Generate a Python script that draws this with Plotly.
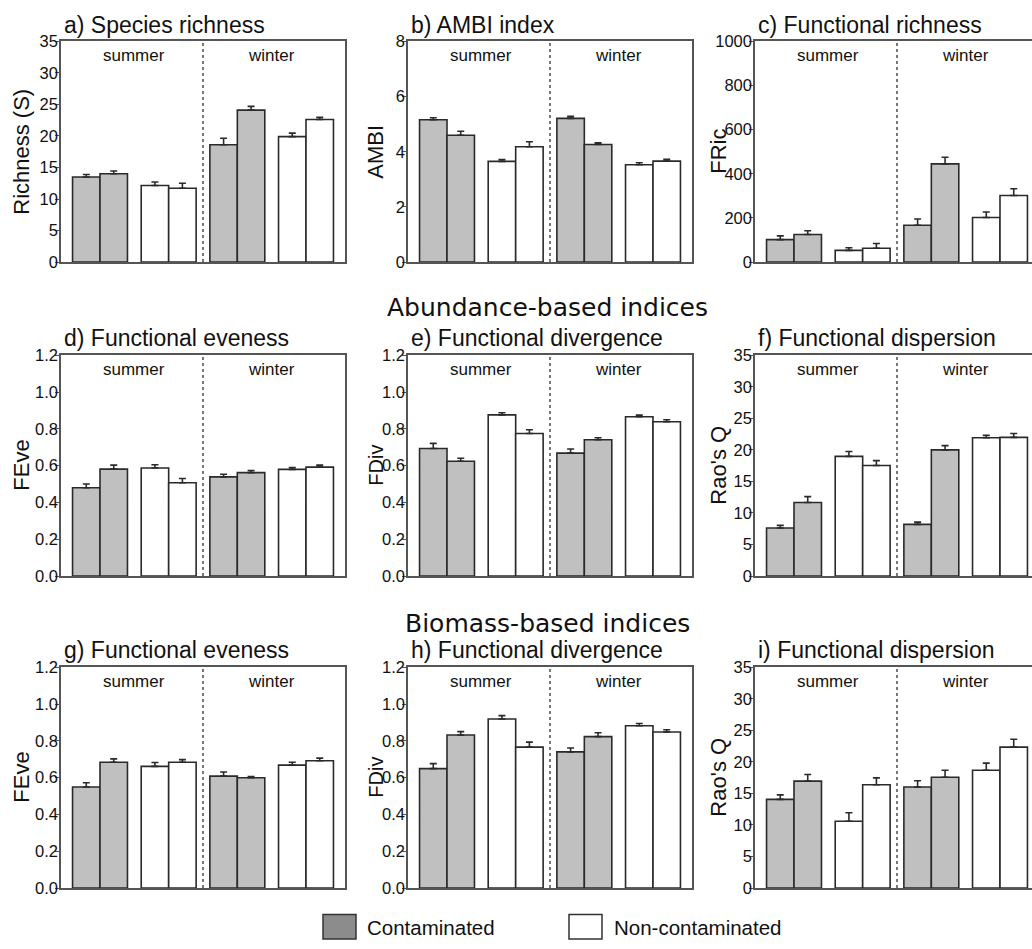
import plotly.graph_objects as go

# ---------------- data ----------------
seasons = ["summer", "winter"]
groups = ["Contaminated", "Non-contaminated"]
# bar order within each panel: summer C1, C2, N1, N2 | winter C1, C2, N1, N2
bar_group = ["C", "C", "N", "N", "C", "C", "N", "N"]

titles = ["a) Species richness", "b) AMBI index", "c) Functional richness",
          "d) Functional eveness", "e) Functional divergence", "f) Functional dispersion",
          "g) Functional eveness", "h) Functional divergence", "i) Functional dispersion"]
ytitles = ["Richness (S)", "AMBI", "FRic", "FEve", "FDiv", "Rao's Q", "FEve", "FDiv", "Rao's Q"]
ymax = [35, 8, 1000, 1.2, 1.2, 35, 1.2, 1.2, 35]
ydtick = [5, 2, 200, 0.2, 0.2, 5, 0.2, 0.2, 5]

richness = [13.5, 14.0, 12.15, 11.7, 18.6, 24.1, 19.9, 22.6]
richness_err = [0.4, 0.45, 0.55, 0.8, 1.05, 0.6, 0.55, 0.35]
ambi = [5.16, 4.60, 3.65, 4.18, 5.21, 4.26, 3.53, 3.66]
ambi_err = [0.07, 0.14, 0.07, 0.18, 0.07, 0.06, 0.07, 0.07]
fric = [102, 125, 53, 63, 167, 445, 202, 302]
fric_err = [17, 17, 12, 21, 28, 30, 25, 30]
feve_ab = [0.48, 0.581, 0.587, 0.507, 0.539, 0.562, 0.58, 0.592]
feve_ab_err = [0.02, 0.022, 0.018, 0.023, 0.014, 0.012, 0.01, 0.011]
fdiv_ab = [0.693, 0.624, 0.876, 0.775, 0.668, 0.741, 0.866, 0.839]
fdiv_ab_err = [0.028, 0.016, 0.012, 0.02, 0.023, 0.011, 0.009, 0.011]
rao_ab = [7.62, 11.66, 18.97, 17.52, 8.19, 20.0, 21.93, 21.98]
rao_ab_err = [0.42, 0.93, 0.78, 0.78, 0.36, 0.67, 0.37, 0.62]
feve_bm = [0.549, 0.684, 0.661, 0.684, 0.608, 0.599, 0.668, 0.692]
feve_bm_err = [0.023, 0.018, 0.021, 0.014, 0.023, 0.007, 0.016, 0.014]
fdiv_bm = [0.649, 0.832, 0.919, 0.766, 0.74, 0.823, 0.882, 0.848]
fdiv_bm_err = [0.027, 0.018, 0.018, 0.027, 0.021, 0.021, 0.012, 0.012]
rao_bm = [14.05, 16.95, 10.58, 16.38, 16.02, 17.57, 18.66, 22.34]
rao_bm_err = [0.72, 1.04, 1.35, 1.09, 0.98, 1.09, 1.14, 1.25]

values = [richness, ambi, fric, feve_ab, fdiv_ab, rao_ab, feve_bm, fdiv_bm, rao_bm]
errors = [richness_err, ambi_err, fric_err, feve_ab_err, fdiv_ab_err, rao_ab_err,
          feve_bm_err, fdiv_bm_err, rao_bm_err]

headings = ["Abundance-based indices", "Biomass-based indices"]

# ---------------- layout helpers ----------------
W, H = 1032, 949
def PX(px):
    return px / W
def PY(py):
    return 1 - py / H

bar_x = [0.5, 1.5, 3.0, 4.0, 5.5, 6.5, 8.0, 9.0]
col_px = [(61, 345), (408, 692), (755, 1032)]
row_px = [(33, 258), (353, 578), (671, 896)]
title_shift = [1, 2, 2]
unit_px = (345 - 61) / 10.34
xr_full = [-0.42, 9.92]

fill = {"C": "#c0c0c0", "N": "#ffffff"}
edge = "#2a2a2a"
frame = "#555555"

fig = go.Figure()
layout = dict(width=W, height=H, margin=dict(l=0, r=0, t=0, b=0),
              paper_bgcolor="white", plot_bgcolor="white", showlegend=False,
              barmode="overlay", font=dict(family="Liberation Sans, Arial", color="#111"))
annotations = []
shapes = []

for i in range(9):
    r, c = divmod(i, 3)
    n = "" if i == 0 else str(i + 1)
    xa, ya = "x" + n, "y" + n
    for g in ["C", "N"]:
        idx = [k for k in range(8) if bar_group[k] == g]
        fig.add_trace(go.Bar(
            x=[bar_x[k] for k in idx], y=[values[i][k] for k in idx],
            width=1.0, xaxis=xa, yaxis=ya,
            name=groups[0] if g == "C" else groups[1],
            marker=dict(color=fill[g], line=dict(color=edge, width=1.6)),
            error_y=dict(type="data", symmetric=False,
                         array=[errors[i][k] for k in idx],
                         arrayminus=[0] * len(idx),
                         color=edge, thickness=1.6, width=3.5),
        ))
    x0, x1 = col_px[c]
    y0, y1 = row_px[r]
    if c < 2:
        xr = xr_full
    else:
        xr = [xr_full[0], xr_full[0] + (x1 - x0) / unit_px]
    layout["xaxis" + n] = dict(domain=[PX(x0), PX(x1)], anchor=ya, range=xr,
                               showline=True, mirror=True, linecolor=frame, linewidth=1.5,
                               showticklabels=False, ticks="", showgrid=False, zeroline=False,
                               fixedrange=True)
    layout["yaxis" + n] = dict(domain=[PY(y1), PY(y0)], anchor=xa, range=[0, ymax[i]],
                               dtick=ydtick[i], tick0=0,
                               tickformat=".1f" if ymax[i] < 5 and ydtick[i] < 1 else "d",
                               showline=True, mirror=(c < 2), linecolor=frame, linewidth=1.5,
                               ticks="outside", ticklen=4, tickcolor=frame, tickwidth=1,
                               ticklabelstandoff=-6,
                               tickfont=dict(size=16.5, color="#111"),
                               showgrid=False, zeroline=False, fixedrange=True)
    # dotted season separator
    shapes.append(dict(type="line", xref=xa, yref=ya + " domain", x0=4.75, x1=4.75, y0=0, y1=1,
                       line=dict(color="#777777", width=2, dash="dot")))
    # season labels
    for s, sx in zip(seasons, [2.25, 7.25]):
        annotations.append(dict(text=s, xref=xa, yref=ya + " domain", x=sx, y=1, yshift=-14,
                                yanchor="middle", showarrow=False,
                                font=dict(size=17, color="#111")))
    # panel title
    annotations.append(dict(text=titles[i], xref="paper", yref="paper", x=PX(x0 + 1), y=PY(y0),
                            xanchor="left", yanchor="bottom", yshift=title_shift[r], showarrow=False,
                            font=dict(size=23, color="#111")))
    # y title
    ytx = [22, 376, 719][c]
    annotations.append(dict(text=ytitles[i], xref="paper", yref="paper", x=PX(ytx),
                            y=PY((y0 + y1) / 2), textangle=-90, showarrow=False,
                            xanchor="center", yanchor="middle",
                            font=dict(size=20 if ytitles[i] == "FDiv" else 22, color="#111")))

for htxt, hy in zip(headings, [304, 626]):
    annotations.append(dict(text=htxt, xref="paper", yref="paper", x=PX(547), y=PY(hy),
                            xanchor="center", yanchor="middle", showarrow=False,
                            font=dict(family="DejaVu Sans, Verdana", size=25, color="#111")))

# legend
leg = [(groups[0], "#8c8c8c", 323, 365), (groups[1], "#ffffff", 569, 612)]
for lab, col, bx, tx in leg:
    shapes.append(dict(type="rect", xref="paper", yref="paper", x0=PX(bx), x1=PX(bx + 33),
                       y0=PY(948), y1=PY(923), fillcolor=col, line=dict(color="#333333", width=1.5)))
    annotations.append(dict(text=lab, xref="paper", yref="paper", x=PX(tx), y=PY(936),
                            xanchor="left", yanchor="middle", showarrow=False,
                            font=dict(size=20.5, color="#111")))

layout["annotations"] = annotations
layout["shapes"] = shapes
fig.update_layout(**layout)
fig.write_html("out.html", config={"displayModeBar": False})
